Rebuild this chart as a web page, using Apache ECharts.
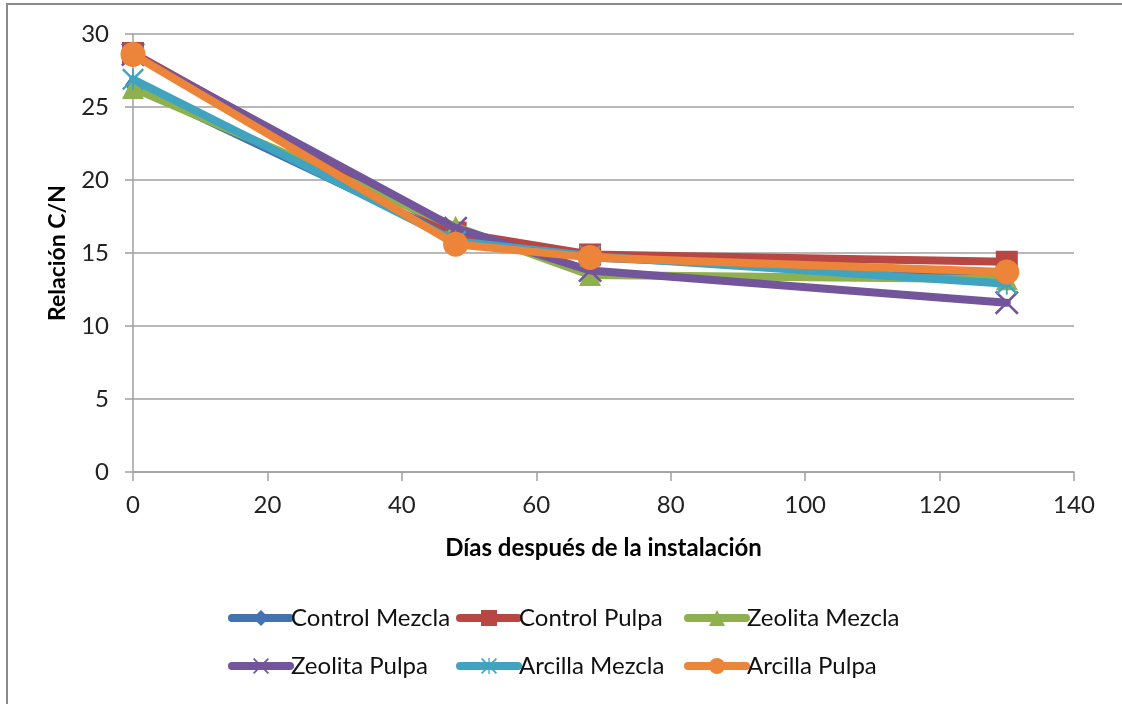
<!DOCTYPE html>
<html>
<head>
<meta charset="utf-8">
<script src="https://cdn.jsdelivr.net/npm/echarts@6/dist/echarts.min.js"></script>
<style>
  html, body { margin: 0; padding: 0; background: #fff; }
  #chart { width: 1122px; height: 704px; }
</style>
</head>
<body>
<div id="chart"></div>
<script>
// días después de la instalación
const days = [0, 48, 68, 130]

const seriesNames = ['Control Mezcla', 'Control Pulpa', 'Zeolita Mezcla', 'Zeolita Pulpa', 'Arcilla Mezcla', 'Arcilla Pulpa']
const controlMezcla = [26.5, 16.0, 14.7, 13.5]
const controlPulpa = [28.7, 16.4, 14.9, 14.4]
const zeolitaMezcla = [26.3, 16.8, 13.5, 13.2]
const zeolitaPulpa = [28.6, 16.7, 13.8, 11.6]
const arcillaMezcla = [26.9, 15.8, 14.8, 12.9]
const arcillaPulpa = [28.6, 15.6, 14.7, 13.7]

const yTicks = [0, 5, 10, 15, 20, 25, 30]
const xTicks = [0, 20, 40, 60, 80, 100, 120, 140]

const colorList = ['#4272B0', '#B84744', '#8FB04E', '#72559A', '#40A3BF', '#EC8539']

// marcadores tipo Excel
const xMark = 'path://M0,1.5L1.5,0L10,8.5L18.5,0L20,1.5L11.5,10L20,18.5L18.5,20L10,11.5L1.5,20L0,18.5L8.5,10Z'
const starMark = 'path://M0,1.5L1.5,0L9.2,7.7L9.2,0L10.8,0L10.8,7.7L18.5,0L20,1.5L12.3,9.2L12.3,10.8L20,18.5L18.5,20L10.8,12.3L10.8,20L9.2,20L9.2,12.3L1.5,20L0,18.5L7.7,10.8L7.7,9.2Z'
const symbols = ['diamond', 'rect', 'triangle', xMark, starMark, 'circle']
const symbolSizes = [[16, 22], 22, 22, 24, 22, 25]

const allValues = [controlMezcla, controlPulpa, zeolitaMezcla, zeolitaPulpa, arcillaMezcla, arcillaPulpa]
const font = 'Lato, "Liberation Sans", sans-serif'

const myChart = echarts.init(document.getElementById('chart'))

// una leyenda por elemento, en rejilla de 3 columnas
function legendItem(name, index) {
  const col = index % 3
  const row = Math.floor(index / 3)
  return {
    data: [name],
    left: 228 + col * 228,
    top: 606 + row * 48,
    itemWidth: 58,
    itemHeight: 20,
    padding: 0,
    lineStyle: { width: 8 },
    textStyle: {
      fontFamily: font,
      fontSize: 24,
      color: '#111',
      padding: [0, 0, 0, -4],
    },
  }
}

const option = {
  backgroundColor: '#fff',
  color: colorList,
  animation: false,
  graphic: [
    {
      type: 'rect',
      shape: { x: 7, y: 4, width: 1140, height: 730 },
      style: { fill: 'none', stroke: '#8a8a8a', lineWidth: 2 },
      silent: true,
    },
  ],
  legend: seriesNames.map(legendItem),
  grid: {
    left: 133,
    right: 48,
    top: 34,
    bottom: 232,
  },
  xAxis: {
    type: 'value',
    min: xTicks[0],
    max: xTicks[xTicks.length - 1],
    interval: 20,
    name: 'Días después de la instalación',
    nameLocation: 'middle',
    nameGap: 64,
    nameTextStyle: { fontFamily: font, fontSize: 24, fontWeight: 'bold', color: '#000' },
    axisLine: { onZero: false, lineStyle: { color: '#a0a0a0', width: 1.5 } },
    axisTick: { show: true, length: 9, lineStyle: { color: '#a0a0a0', width: 1.5 } },
    axisLabel: { fontFamily: font, fontSize: 24, color: '#222', margin: 21 },
    splitLine: { show: false },
  },
  yAxis: {
    type: 'value',
    min: yTicks[0],
    max: yTicks[yTicks.length - 1],
    interval: 5,
    name: 'Relación C/N',
    nameLocation: 'middle',
    nameGap: 64,
    nameTextStyle: { fontFamily: font, fontSize: 23, fontWeight: 'bold', color: '#000' },
    axisLine: { show: true, lineStyle: { color: '#a0a0a0', width: 1.5 } },
    axisTick: { show: true, length: 8, lineStyle: { color: '#a0a0a0', width: 1.5 } },
    axisLabel: { fontFamily: font, fontSize: 24, color: '#222', margin: 24 },
    splitLine: { show: true, lineStyle: { color: '#a0a0a0', width: 1.5 } },
  },
  series: seriesNames.map((name, i) => {
    return {
      name,
      type: 'line',
      data: days.map((d, j) => [d, allValues[i][j]]),
      symbol: symbols[i],
      symbolSize: symbolSizes[i],
      showAllSymbol: true,
      lineStyle: { width: 8, color: colorList[i], cap: 'round', join: 'round' },
      itemStyle: { color: colorList[i], borderWidth: 0 },
      emphasis: { disabled: true },
      z: 2 + i,
    }
  }),
}
myChart.setOption(option, true)
</script>
</body>
</html>
